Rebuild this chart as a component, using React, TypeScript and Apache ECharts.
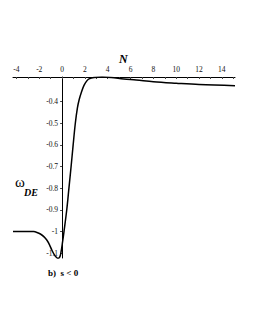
import React, { useEffect, useRef } from "react";
import * as echarts from "echarts";

const nValues = [-4.3, -3, -2.5, -2.2, -1.9, -1.6, -1.34, -1.1, -0.9, -0.7, -0.5, -0.35, -0.2, -0.09, 0.04, 0.17, 0.41, 0.6, 0.79, 0.97, 1.16, 1.34, 1.5, 1.7, 1.92, 2.15, 2.36, 2.8, 3.5, 4.3, 5.4, 6.5, 8, 10, 12, 15.15];
const omegaValues = [-1.0, -1.0, -1.001, -1.005, -1.012, -1.024, -1.04, -1.062, -1.086, -1.106, -1.12, -1.125, -1.118, -1.095, -1.05, -1.0, -0.9, -0.8, -0.7, -0.6, -0.5, -0.43, -0.39, -0.355, -0.325, -0.305, -0.295, -0.288, -0.286, -0.288, -0.295, -0.3, -0.308, -0.315, -0.321, -0.326];
const xTickLabels = [-4, -2, 0, 2, 4, 6, 8, 10, 12, 14];
const xMinorTicks = [-4, -3, -2, -1, 0, 1, 2, 3, 4, 5, 6, 7, 8, 9, 10, 11, 12, 13, 14, 15];
const yTickLabels = [-0.4, -0.5, -0.6, -0.7, -0.8, -0.9, -1.0, -1.1];

const FONT = "Liberation Serif";
const X_MIN = -4.3;
const X_MAX = 15.15;
const GRID_LEFT = 13;
const GRID_RIGHT = 20;
const PLOT_W = 255 - GRID_LEFT - GRID_RIGHT;

export default function App() {
  const ref = useRef<HTMLDivElement>(null);
  useEffect(() => {
    if (!ref.current) return;
    const chart = echarts.init(ref.current, null, { renderer: "svg" });
    const data = nValues.map((n, i) => [n, omegaValues[i]]);
    const yAxisOffset = -((0 - X_MIN) / (X_MAX - X_MIN)) * PLOT_W;
    chart.setOption({
      animation: false,
      backgroundColor: "#ffffff",
      grid: { left: GRID_LEFT, right: GRID_RIGHT, top: 77, bottom: 72, containLabel: false },
      xAxis: {
        type: "value",
        position: "top",
        min: X_MIN,
        max: X_MAX,
        splitLine: { show: false },
        axisLine: { show: true, onZero: false, lineStyle: { color: "#000", width: 1 } },
        axisTick: { show: true, inside: true, length: 2, customValues: xMinorTicks, lineStyle: { color: "#444" } },
        axisLabel: {
          show: true,
          customValues: xTickLabels,
          margin: 4,
          fontFamily: FONT,
          fontSize: 7.5,
          color: "#111",
        },
      },
      yAxis: {
        type: "value",
        position: "left",
        offset: yAxisOffset,
        min: -1.123,
        max: -0.286,
        splitLine: { show: false },
        axisLine: { show: true, onZero: false, lineStyle: { color: "#000", width: 1 } },
        axisTick: { show: true, length: 2, customValues: yTickLabels, lineStyle: { color: "#444" } },
        axisLabel: {
          show: true,
          customValues: yTickLabels,
          margin: 4,
          fontFamily: FONT,
          fontSize: 7.5,
          color: "#111",
          formatter: (v: number) => (Math.abs(v + 1) < 1e-9 ? "-1" : String(Number(v.toFixed(1)))),
        },
      },
      series: [
        {
          type: "line",
          data,
          smooth: 0.35,
          showSymbol: false,
          lineStyle: { color: "#000", width: 1.5 },
          clip: true,
        },
      ],
      graphic: [
        { type: "text", left: 119, top: 53, style: { text: "N", font: `italic bold 12px "${FONT}"`, fill: "#000" } },
        { type: "text", left: 15, top: 174, style: { text: "ω", font: `15px "${FONT}"`, fill: "#000" } },
        { type: "text", left: 24, top: 187, style: { text: "DE", font: `italic bold 10px "${FONT}"`, fill: "#000" } },
        { type: "text", left: 48, top: 268, style: { text: "b)  s < 0", font: `bold 9px "${FONT}"`, fill: "#000" } },
      ],
    });
    return () => chart.dispose();
  }, []);
  return <div ref={ref} style={{ position: "fixed", left: 0, top: 0, width: 255, height: 330 }} />;
}
